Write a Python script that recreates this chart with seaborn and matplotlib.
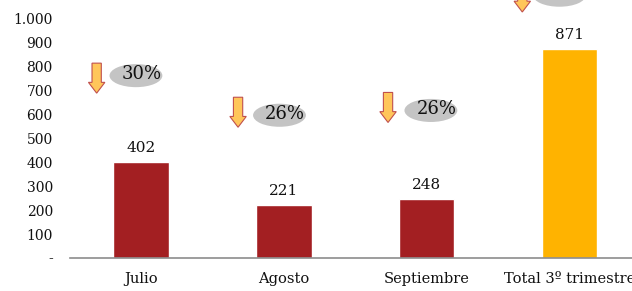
import matplotlib
matplotlib.use("Agg")
import matplotlib.pyplot as plt
import matplotlib.patches as mpatches
from matplotlib.ticker import FuncFormatter, FixedLocator
import seaborn as sns
import pandas as pd

categories = ["Julio", "Agosto", "Septiembre", "Total 3º trimestre"]
values = [402, 221, 248, 871]
bar_colors = ["#A31F22", "#A31F22", "#A31F22", "#FFB300"]
pct_labels = ["30%", "26%", "26%", "27%"]
# arrow/bubble placement (x in category units, y in data units)
arrow_x = [-0.31, 0.68, 1.73, 2.67]
arrow_top = [812, 670, 690, 1150]
bubble_x = [-0.035, 0.97, 2.03, 2.93]
bubble_y = [760, 595, 615, 1095]

sns.set_theme(style="white")
plt.rcParams["font.family"] = ["DejaVu Serif", "Liberation Serif"]

fig = plt.figure(figsize=(6.32, 2.91), dpi=100)
ax = fig.add_axes([0.110, 0.113, 0.904, 0.887])

df = pd.DataFrame({"cat": categories, "val": values})
sns.barplot(data=df, x="cat", y="val", hue="cat", palette=bar_colors,
            width=0.39, legend=False, ax=ax, saturation=1)

ax.set_xlim(-0.5, 3.5)
ax.set_ylim(0, 1075)
ax.set_xlabel("")
ax.set_ylabel("")

for s in ["top", "right", "left"]:
    ax.spines[s].set_visible(False)
ax.spines["bottom"].set_color("#8C8C8C")
ax.spines["bottom"].set_linewidth(1.2)

ax.set_yticks(range(0, 1001, 100))
ax.yaxis.set_major_formatter(FuncFormatter(
    lambda v, p: "-" if v == 0 else f"{int(v):,}".replace(",", ".")))
ax.tick_params(axis="y", length=0, pad=12, labelsize=10, labelcolor="#111111")

ax.xaxis.set_minor_locator(FixedLocator([-0.5, 0.5, 1.5, 2.5, 3.5]))
ax.tick_params(axis="x", which="major", length=0, pad=10, labelsize=10.5, labelcolor="#111111")
ax.tick_params(axis="x", which="minor", length=5, width=1, color="#8C8C8C", direction="out")

for i, v in enumerate(values):
    ax.annotate(str(v), (i, v), xytext=(0, 5), textcoords="offset points",
                ha="center", va="bottom", fontsize=11, color="#111111")

for i in range(len(categories)):
    arr = mpatches.FancyArrow(arrow_x[i], arrow_top[i], 0, -125,
                              width=0.065, head_width=0.115, head_length=45,
                              length_includes_head=True, facecolor="#FFC65A",
                              edgecolor="#C0504D", linewidth=0.8, clip_on=False, zorder=5)
    ax.add_patch(arr)
    ell = mpatches.Ellipse((bubble_x[i], bubble_y[i]), 0.37, 96,
                           facecolor="#C4C4C4", edgecolor="none", clip_on=False, zorder=4)
    ax.add_patch(ell)
    ax.text(bubble_x[i] + 0.04, bubble_y[i] + 6, pct_labels[i], ha="center", va="center",
            fontsize=13, color="#111111", zorder=6, clip_on=False)

fig.savefig("out.png", dpi=100)
